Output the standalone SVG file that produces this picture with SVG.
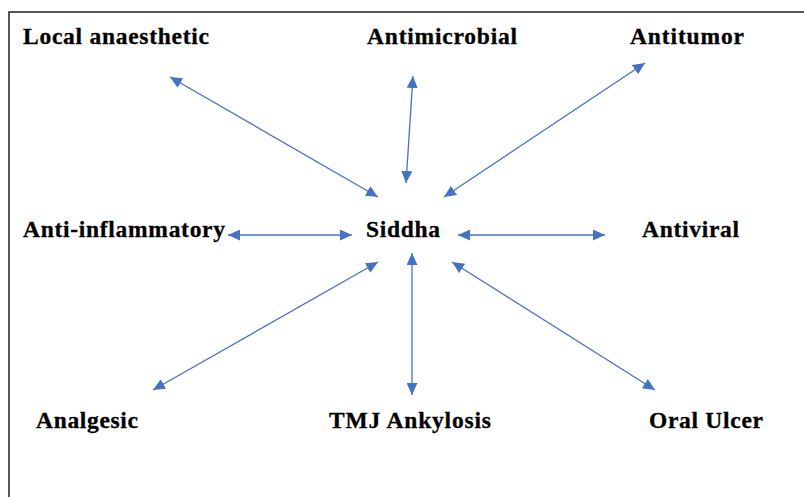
<svg xmlns="http://www.w3.org/2000/svg" width="804" height="497" viewBox="0 0 804 497">
<style>
.lbl{font-family:"Liberation Serif","Times New Roman",serif;font-weight:bold;font-size:23.5px;fill:#000;stroke:#000;stroke-width:0.3}
.con{stroke:#4472C4;stroke-width:1.3;fill:none;marker-start:url(#ah);marker-end:url(#ah)}
</style>
<defs>
<marker id="ah" markerUnits="userSpaceOnUse" markerWidth="13" markerHeight="11" refX="12" refY="5.5" orient="auto-start-reverse">
<path d="M0,0 L12,5.5 L0,11 Z" fill="#4472C4"/>
</marker>
</defs>
<rect width="804" height="497" fill="#fff"/>
<path d="M9,497 V12 H804" stroke="#222" stroke-width="1.5" fill="none"/>
<g id="connectors">
<line class="con" x1="170" y1="77" x2="378" y2="197"/>
<line class="con" x1="413" y1="76" x2="406" y2="183"/>
<line class="con" x1="645" y1="63" x2="444" y2="197"/>
<line class="con" x1="228" y1="235" x2="352" y2="235"/>
<line class="con" x1="458" y1="235" x2="605" y2="235"/>
<line class="con" x1="378" y1="262" x2="153" y2="390"/>
<line class="con" x1="412" y1="253" x2="412" y2="395"/>
<line class="con" x1="452" y1="262" x2="655" y2="390"/>
</g>
<g id="siddha"><text class="lbl" x="366" y="237" textLength="74" lengthAdjust="spacing">Siddha</text></g>
<g id="local-anaesthetic"><text class="lbl" x="23" y="44" textLength="186" lengthAdjust="spacing">Local anaesthetic</text></g>
<g id="antimicrobial"><text class="lbl" x="367" y="44" textLength="150" lengthAdjust="spacing">Antimicrobial</text></g>
<g id="antitumor"><text class="lbl" x="630" y="44" textLength="114" lengthAdjust="spacing">Antitumor</text></g>
<g id="anti-inflammatory"><text class="lbl" x="23" y="237" textLength="202" lengthAdjust="spacing">Anti-inflammatory</text></g>
<g id="antiviral"><text class="lbl" x="642" y="237" textLength="97" lengthAdjust="spacing">Antiviral</text></g>
<g id="analgesic"><text class="lbl" x="36" y="428" textLength="102" lengthAdjust="spacing">Analgesic</text></g>
<g id="tmj-ankylosis"><text class="lbl" x="329" y="428" textLength="162" lengthAdjust="spacing">TMJ Ankylosis</text></g>
<g id="oral-ulcer"><text class="lbl" x="649" y="428" textLength="114" lengthAdjust="spacing">Oral Ulcer</text></g>
</svg>
